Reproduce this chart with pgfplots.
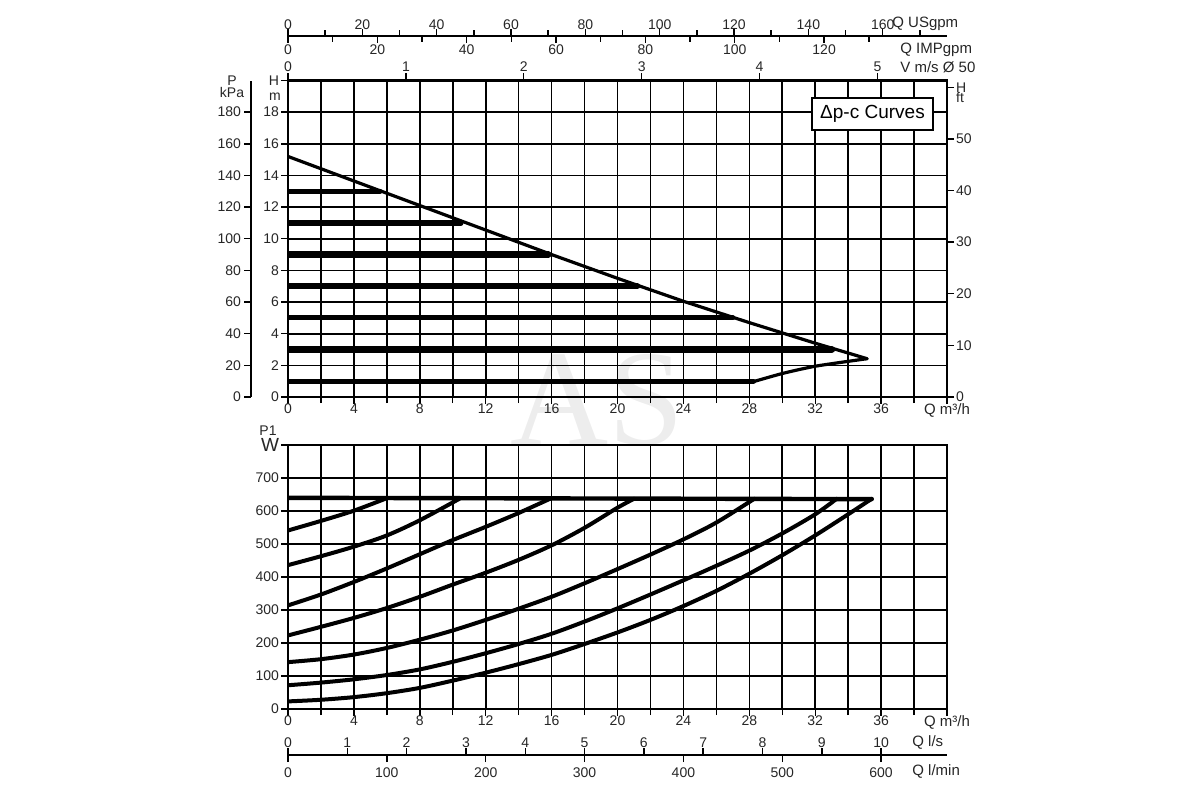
\documentclass[border=0pt]{standalone}
\usepackage{fontspec}
\setmainfont{Liberation Sans}
\newfontfamily\wmfont{Liberation Serif}
\usepackage{pgfplots}
\pgfplotsset{compat=1.18}
\pgfplotsset{
  base/.style={
    scale only axis, width=329.5pt, anchor=south west,
    every tick label/.append style={font=\fontsize{7}{8}\selectfont, text=black!85},
    /pgf/number format/assume math mode=true,
    tick style={black, line width=0.7pt},
    major tick length=3.5pt, minor tick length=3pt,
    tick align=outside,
    axis line style={black, line width=1.1pt},
  },
  gridded/.style={
    grid=both,
    major grid style={black, line width=0.8pt},
    minor grid style={black, line width=0.8pt},
    xtick pos=bottom, ytick pos=left,
    xticklabel shift=-3.5pt, yticklabel shift=-2.5pt,
  },
  curve/.style={black, line width=#1, line cap=round, line join=round},
}
\begin{document}
\begin{tikzpicture}
\path[use as bounding box] (0,0) rectangle (600pt,400pt);
\node[text=black!7, font=\wmfont\fontsize{68}{68}\selectfont] at (298.5pt,200pt) {AS};

% ---------------- upper plot: head ----------------
\begin{axis}[base, gridded, at={(144pt,201.5pt)}, height=158.25pt,
  xmin=0, xmax=40, ymin=0, ymax=20,
  xtick={0,4,...,40}, xticklabels={0,4,8,12,16,20,24,28,32,36,{\fontsize{7.5}{8}\selectfont Q m³/h}},
  minor xtick={2,6,...,38},
  ytick={0,2,...,20}, yticklabels={0,2,4,6,8,10,12,14,16,18,H},
]
\addplot[curve=2.3pt] coordinates {(0,13)(5.6,13)};
\addplot[curve=2.6pt] coordinates {(0,11)(10.5,11)};
\addplot[curve=3.1pt] coordinates {(0,9)(15.8,9)};
\addplot[curve=3.0pt] coordinates {(0,7)(21.2,7)};
\addplot[curve=2.6pt] coordinates {(0,5)(27.0,5)};
\addplot[curve=3.5pt] coordinates {(0,3)(33.0,3)};
\addplot[curve=2.6pt] coordinates {(0,1)(28.25,1)};
\addplot[curve=1.6pt] coordinates {(0,15.2)(4,13.65)(8,12.1)(12,10.55)(16,9.0)(20,7.5)(24,6.05)(28,4.7)(32,3.4)(35.15,2.42)};
\addplot[curve=1.6pt, smooth, tension=0.4] coordinates {(35.15,2.42)(32.09,1.96)(30.06,1.5)(28.25,0.97)};
\end{axis}

% P kPa scale
\begin{axis}[base, at={(125.5pt,201.5pt)}, width=1pt, height=158.25pt,
  xmin=0, xmax=1, ymin=0, ymax=200, hide x axis, axis y line*=left,
  ytick={0,20,...,180}, y axis line style={line width=0.8pt}, yticklabel shift=-2pt]
\end{axis}

% H ft scale
\begin{axis}[base, at={(144pt,201.5pt)}, height=158.25pt,
  xmin=0, xmax=40, ymin=0, ymax=61.3, hide x axis, axis y line*=right,
  ytick={0,10,...,60}, yticklabels={0,10,20,30,40,50,H}, yticklabel shift=-2.5pt]
\end{axis}

% V m/s scale
\begin{axis}[base, at={(144pt,201.5pt)}, height=158.25pt,
  xmin=0, xmax=5.59, ymin=0, ymax=1, hide y axis, axis x line*=top,
  xtick={0,1,2,3,4,5}, xticklabel shift=-2.5pt]
\end{axis}

% USgpm scale
\begin{axis}[base, at={(144pt,381pt)}, height=1pt,
  xmin=0, xmax=177.3, ymin=0, ymax=1, hide y axis, axis x line*=top,
  xtick={0,20,...,160}, minor xtick={10,30,...,170},
  axis line style={line width=0.8pt}, xticklabel shift=-4pt]
\end{axis}
% IMPgpm scale
\begin{axis}[base, at={(144pt,382pt)}, height=1pt,
  xmin=0, xmax=147.5, ymin=0, ymax=1, hide y axis, axis x line*=bottom,
  xtick={0,20,...,120}, minor xtick={10,30,...,140},
  axis line style={line width=0.8pt}, xticklabel shift=-2.5pt]
\end{axis}

% ---------------- lower plot: power ----------------
\begin{axis}[base, gridded, at={(144pt,45.5pt)}, height=132pt,
  xmin=0, xmax=40, ymin=0, ymax=800,
  xtick={0,4,...,40}, xticklabels={0,4,8,12,16,20,24,28,32,36,{\fontsize{7.5}{8}\selectfont Q m³/h}},
  minor xtick={2,6,...,38},
  ytick={0,100,...,800}, yticklabels={0,100,200,300,400,500,600,700,{\fontsize{9.5}{10}\selectfont W}},
]
\addplot[curve=2.2pt] coordinates {(0,640)(35.43,636)};
\addplot[curve=2pt, smooth, tension=0.5] coordinates {(0,541)(2,570)(4,601)(5.9,637)};
\addplot[curve=2pt, smooth, tension=0.5] coordinates {(0,436)(2,463)(4,492)(6,526)(8,572)(10.4,637)};
\addplot[curve=2pt, smooth, tension=0.5] coordinates {(0,314)(2,347)(4,385)(6,426)(8,469)(10,512)(12,552)(14,594)(15.9,637)};
\addplot[curve=2pt, smooth, tension=0.5] coordinates {(0,223)(2,249)(4,276)(6,306)(8,340)(10,377)(12,413)(14,452)(16,496)(18,549)(20,610)(21.0,637)};
\addplot[curve=2pt, smooth, tension=0.5] coordinates {(0,142)(2,151)(4,165)(6,185)(8,210)(10,238)(12,270)(14,304)(16,340)(18,381)(20,424)(22,468)(24,514)(26,565)(28.3,637)};
\addplot[curve=2pt, smooth, tension=0.5] coordinates {(0,72)(2,80)(4,90)(6,103)(8,120)(10,143)(12,169)(14,197)(16,228)(18,265)(20,305)(22,347)(24,390)(26,434)(28,480)(30,532)(32,590)(33.3,637)};
\addplot[curve=2pt, smooth, tension=0.5] coordinates {(0,23)(2,28)(4,36)(6,48)(8,64)(10,86)(12,110)(14,136)(16,164)(18,197)(20,232)(22,270)(24,312)(26,358)(28,410)(30,466)(32,526)(34,590)(35.43,637)};
\end{axis}

% l/s scale
\begin{axis}[base, at={(144pt,21.5pt)}, height=1pt,
  xmin=0, xmax=11.111, ymin=0, ymax=1, hide y axis, axis x line*=top,
  xtick={0,1,...,10}, axis line style={line width=0.8pt}, xticklabel shift=-3.5pt]
\end{axis}
% l/min scale
\begin{axis}[base, at={(144pt,22.5pt)}, height=1pt,
  xmin=0, xmax=666.67, ymin=0, ymax=1, hide y axis, axis x line*=bottom,
  xtick={0,100,...,600}, axis line style={line width=0.8pt}, xticklabel shift=-0.5pt]
\end{axis}

% ---------------- texts ----------------
\begin{scope}[every node/.style={font=\fontsize{7}{8}\selectfont, text=black!85, inner sep=0pt}]
\node at (116pt,359.5pt) {P};
\node at (116pt,354pt) {kPa};
\node at (137.5pt,351.5pt) {m};
\node at (480pt,351.5pt) {ft};
\node at (134pt,184.5pt) {P1};
\end{scope}
\begin{scope}[every node/.style={font=\fontsize{7.5}{8}\selectfont, text=black!85, inner sep=0pt, anchor=west}]
\node at (446pt,388pt) {Q USgpm};
\node at (450pt,375.3pt) {Q IMPgpm};
\node at (450pt,366.3pt) {V m/s Ø 50};
\node at (456pt,29pt) {Q l/s};
\node at (456pt,14.5pt) {Q l/min};
\end{scope}
\node[draw=black, line width=1.4pt, fill=white, minimum width=60.5pt, minimum height=16pt, inner sep=0pt,
  font=\fontsize{9.5}{10}\selectfont] at (436.25pt,343pt) {Δp-c Curves};
\end{tikzpicture}
\end{document}
